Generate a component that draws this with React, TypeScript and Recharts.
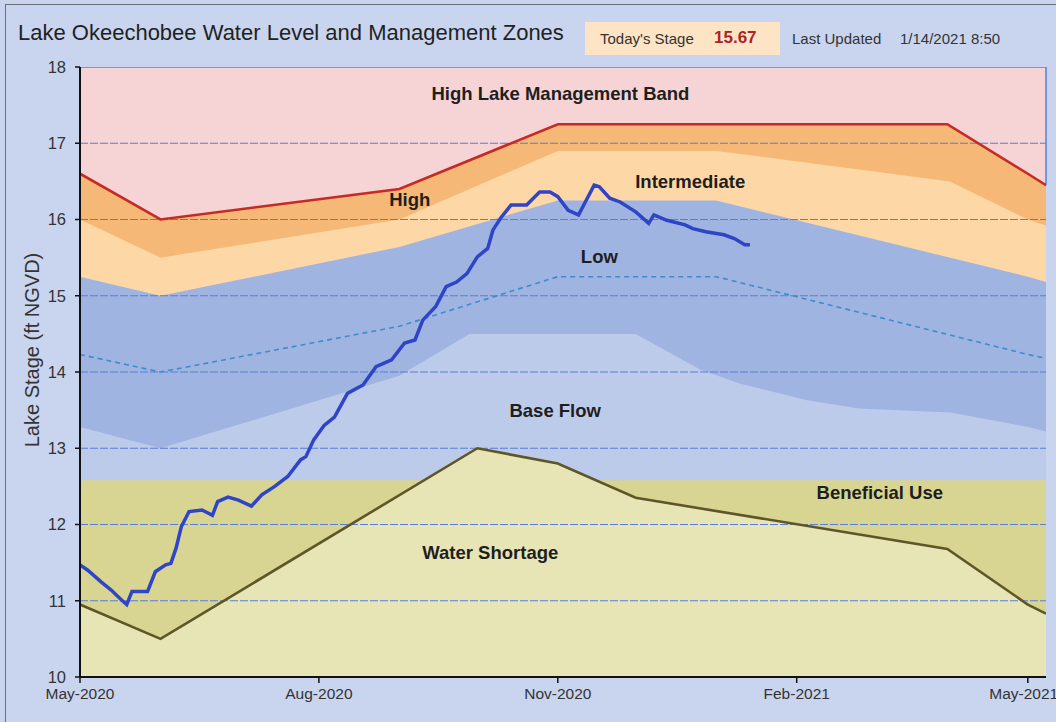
import React from 'react';
import {
  ComposedChart,
  Area,
  Line,
  XAxis,
  YAxis,
  ReferenceLine,
  ReferenceDot,
} from 'recharts';

// ---- axis definitions (x = days since 1 May 2020) ----
const xTicks = [0, 92, 184, 276, 365];
const xTickLabels = ['May-2020', 'Aug-2020', 'Nov-2020', 'Feb-2021', 'May-2021'];
const yTicks = [10, 11, 12, 13, 14, 15, 16, 17, 18];
const gridLevels = [11, 12, 13, 14, 15, 16, 17];

// ---- management zone boundaries: [day, stage ft] ----
const highBandTop: [number, number][] = [[0, 18], [372, 18]];
const highBandBottom: [number, number][] = [
  [0, 16.6], [31, 16.0], [123, 16.4], [184, 17.25], [334, 17.25], [365, 16.6], [372, 16.45],
];
const highZoneBottom: [number, number][] = [
  [0, 16.0], [31, 15.5], [123, 16.0], [184, 16.9], [245, 16.9], [335, 16.5], [365, 16.0], [372, 15.92],
];
const lowZoneTop: [number, number][] = [
  [0, 15.25], [31, 15.0], [123, 15.64], [184, 16.25], [245, 16.25], [365, 15.25], [372, 15.18],
];
const lowZoneMid: [number, number][] = [
  [0, 14.23], [31, 14.0], [123, 14.6], [184, 15.25], [245, 15.25], [365, 14.23], [372, 14.18],
];
const baseFlowTop: [number, number][] = [
  [0, 13.28], [31, 13.0], [123, 13.95], [150, 14.5], [214, 14.5], [239, 14.03], [254, 13.85],
  [280, 13.63], [300, 13.52], [335, 13.47], [365, 13.28], [372, 13.22],
];
const beneficialTop: [number, number][] = [[0, 12.58], [372, 12.58]];
const waterShortageTop: [number, number][] = [
  [0, 10.95], [31, 10.5], [153, 13.0], [184, 12.8], [214, 12.35], [334, 11.68], [365, 10.95], [372, 10.83],
];

// ---- observed lake stage: [day, stage ft] ----
const lakeStage: [number, number][] = [
  [0, 11.47], [3, 11.4], [8, 11.25], [12, 11.14], [16, 11.01], [18, 10.95], [20, 11.12], [23, 11.12],
  [26, 11.12], [29, 11.38], [33, 11.47], [35, 11.49], [37, 11.69], [39, 11.97], [42, 12.17], [47, 12.19],
  [51, 12.12], [53, 12.3], [57, 12.36], [61, 12.32], [66, 12.24], [70, 12.39], [75, 12.5], [80, 12.63],
  [85, 12.85], [87, 12.89], [90, 13.11], [94, 13.3], [98, 13.41], [103, 13.72], [109, 13.83], [114, 14.07],
  [120, 14.16], [125, 14.38], [129, 14.42], [132, 14.68], [137, 14.86], [141, 15.12], [145, 15.18],
  [149, 15.29], [153, 15.51], [157, 15.62], [159, 15.86], [162, 16.02], [166, 16.19], [172, 16.19],
  [177, 16.36], [181, 16.36], [184, 16.3], [188, 16.12], [192, 16.06], [194, 16.19], [198, 16.45],
  [200, 16.43], [204, 16.28], [208, 16.23], [214, 16.1], [219, 15.95], [221, 16.06], [226, 15.99],
  [233, 15.93], [236, 15.88], [241, 15.84], [248, 15.8], [252, 15.75], [256, 15.67], [258, 15.67],
];

const todaysStage = '15.67';
const lastUpdated = '1/14/2021 8:50';

const zoneLabels = [
  { text: 'High Lake Management Band', day: 185, stage: 17.65 },
  { text: 'High', day: 127, stage: 16.26 },
  { text: 'Intermediate', day: 235, stage: 16.5 },
  { text: 'Low', day: 200, stage: 15.52 },
  { text: 'Base Flow', day: 183, stage: 13.5 },
  { text: 'Beneficial Use', day: 308, stage: 12.42 },
  { text: 'Water Shortage', day: 158, stage: 11.63 },
];

// ---- build one table for the chart ----
const seriesMap: Record<string, [number, number][]> = {
  highBandTop,
  highBandBottom,
  highZoneBottom,
  lowZoneTop,
  lowZoneMid,
  baseFlowTop,
  beneficialTop,
  waterShortageTop,
  lakeStage,
};
const rowsByDay = new Map<number, any>();
Object.entries(seriesMap).forEach(([key, pts]) => {
  pts.forEach(([d, v]) => {
    if (!rowsByDay.has(d)) rowsByDay.set(d, { day: d });
    rowsByDay.get(d)[key] = v;
  });
});
const tableData = Array.from(rowsByDay.values()).sort((a, b) => a.day - b.day);

const SANS = "'Liberation Sans', Arial, sans-serif";

const C = {
  bg: '#c9d5ef',
  pink: '#f6d3d4',
  highOrange: '#f5b877',
  interOrange: '#fdd8a6',
  lowBlue: '#9fb4e1',
  baseBlue: '#bdcbeb',
  beneficial: '#d8d592',
  shortage: '#e7e5b6',
  red: '#c62a26',
  olive: '#5f5628',
  water: '#2f44c6',
  dashed: '#3f8ccc',
  grid: '#5a7ed6',
};

export default function App() {
  const lastRed = highBandBottom[highBandBottom.length - 1];
  return (
    <div
      style={{
        position: 'fixed',
        left: 0,
        top: 0,
        width: 1056,
        height: 722,
        overflow: 'hidden',
        background: C.bg,
        fontFamily: SANS,
      }}
    >
      <div
        style={{
          position: 'absolute',
          left: 5,
          top: 4,
          width: 1100,
          height: 800,
          border: '1px solid #6a6f7c',
        }}
      />
      <ComposedChart
        width={1056}
        height={722}
        data={tableData}
        margin={{ top: 67, right: 10, bottom: 15, left: 0 }}
      >
        <XAxis
          dataKey="day"
          type="number"
          domain={[0, 372]}
          ticks={xTicks}
          allowDataOverflow
          tickFormatter={(v: number) => xTickLabels[xTicks.indexOf(v)] ?? ''}
          axisLine={{ stroke: '#111', strokeWidth: 2 }}
          tickLine={{ stroke: '#111', strokeWidth: 1.5 }}
          tickSize={6}
          tickMargin={5}
          height={30}
          tick={{ fill: '#333', fontSize: 15.5, fontFamily: SANS }}
        />
        <YAxis
          type="number"
          domain={[10, 18]}
          ticks={yTicks}
          allowDataOverflow
          width={80}
          axisLine={{ stroke: '#111', strokeWidth: 2 }}
          tickLine={{ stroke: '#111', strokeWidth: 1.5 }}
          tickSize={5}
          tickMargin={9}
          tick={{ fill: '#333', fontSize: 16.5, fontFamily: SANS }}
        />
        <Area type="linear" dataKey="highBandTop" connectNulls fill={C.pink} fillOpacity={1} stroke={C.grid} strokeWidth={1.5} isAnimationActive={false} />
        <Area type="linear" dataKey="highBandBottom" connectNulls fill={C.highOrange} fillOpacity={1} stroke="none" isAnimationActive={false} />
        <Area type="linear" dataKey="highZoneBottom" connectNulls fill={C.interOrange} fillOpacity={1} stroke="none" isAnimationActive={false} />
        <Area type="linear" dataKey="lowZoneTop" connectNulls fill={C.lowBlue} fillOpacity={1} stroke="none" isAnimationActive={false} />
        <Area type="linear" dataKey="baseFlowTop" connectNulls fill={C.baseBlue} fillOpacity={1} stroke="none" isAnimationActive={false} />
        <Area type="linear" dataKey="beneficialTop" connectNulls fill={C.beneficial} fillOpacity={1} stroke="none" isAnimationActive={false} />
        <Area type="linear" dataKey="waterShortageTop" connectNulls fill={C.shortage} fillOpacity={1} stroke="none" isAnimationActive={false} />
        {gridLevels.map((g) => (
          <ReferenceLine key={g} y={g} stroke={C.grid} strokeWidth={1.2} strokeDasharray="8 2" />
        ))}
        <ReferenceLine
          segment={[{ x: lastRed[0], y: lastRed[1] }, { x: lastRed[0], y: 18 }]}
          stroke={C.grid}
          strokeWidth={1.5}
        />
        <Line type="linear" dataKey="lowZoneMid" connectNulls stroke={C.dashed} strokeWidth={1.6} strokeDasharray="5 4" dot={false} isAnimationActive={false} />
        <Line type="linear" dataKey="highBandBottom" connectNulls stroke={C.red} strokeWidth={2.6} dot={false} isAnimationActive={false} />
        <Line type="linear" dataKey="waterShortageTop" connectNulls stroke={C.olive} strokeWidth={2.6} dot={false} isAnimationActive={false} />
        <Line type="linear" dataKey="lakeStage" connectNulls stroke={C.water} strokeWidth={3.5} dot={false} isAnimationActive={false} />
        {zoneLabels.map((z) => (
          <ReferenceDot
            key={z.text}
            x={z.day}
            y={z.stage}
            r={0}
            fill="none"
            stroke="none"
            label={{
              value: z.text,
              position: 'center',
              fill: '#1e1e1e',
              fontSize: 18.5,
              fontWeight: 'bold',
              fontFamily: SANS,
            }}
          />
        ))}
      </ComposedChart>

      <div
        style={{
          position: 'absolute',
          left: 18,
          top: 20,
          fontSize: 22,
          lineHeight: '26px',
          color: '#222',
          whiteSpace: 'nowrap',
        }}
      >
        Lake Okeechobee Water Level and Management Zones
      </div>
      <div
        style={{
          position: 'absolute',
          left: 585,
          top: 22,
          width: 195,
          height: 33,
          background: '#fde4c4',
        }}
      />
      <div
        style={{
          position: 'absolute',
          left: 600,
          top: 30,
          fontSize: 15,
          lineHeight: '18px',
          color: '#333',
          whiteSpace: 'nowrap',
        }}
      >
        Today's Stage
      </div>
      <div
        style={{
          position: 'absolute',
          left: 714,
          top: 28,
          fontSize: 17,
          lineHeight: '20px',
          fontWeight: 'bold',
          color: '#a8262a',
          whiteSpace: 'nowrap',
        }}
      >
        {todaysStage}
      </div>
      <div
        style={{
          position: 'absolute',
          left: 792,
          top: 30,
          fontSize: 15,
          lineHeight: '18px',
          color: '#333',
          whiteSpace: 'nowrap',
        }}
      >
        Last Updated
      </div>
      <div
        style={{
          position: 'absolute',
          left: 900,
          top: 30,
          fontSize: 15,
          lineHeight: '18px',
          color: '#333',
          whiteSpace: 'nowrap',
        }}
      >
        {lastUpdated}
      </div>
      <div
        style={{
          position: 'absolute',
          left: 32,
          top: 350,
          transform: 'translate(-50%, -50%) rotate(-90deg)',
          fontSize: 20,
          lineHeight: '22px',
          color: '#333',
          whiteSpace: 'nowrap',
        }}
      >
        Lake Stage (ft NGVD)
      </div>
    </div>
  );
}
